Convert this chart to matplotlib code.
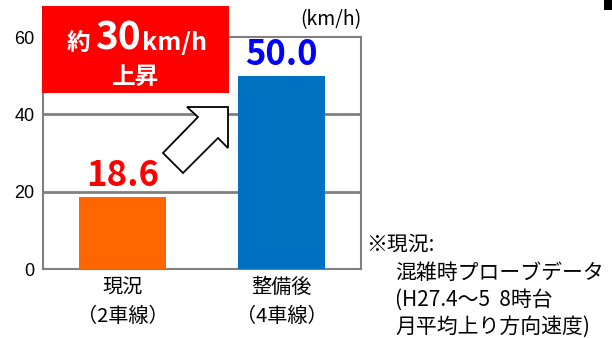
import matplotlib
matplotlib.use("Agg")
import matplotlib.pyplot as plt
from matplotlib.patches import Rectangle, Polygon

plt.rcParams['font.family'] = ['Noto Sans CJK JP', 'DejaVu Sans']

# Data
categories = ["現況\n（2車線）", "整備後\n（4車線）"]
speeds = [18.6, 50.0]
bar_colors = ["#FF6600", "#0070C0"]
label_colors = ["#FF0000", "#0000FF"]
yticks = [0, 20, 40, 60]

W, H = 612, 338
fig = plt.figure(figsize=(W / 100, H / 100), dpi=100)


def fp(x, y):
    """pixel position (from top-left) -> figure fraction"""
    return x / W, 1 - y / H


ax = fig.add_axes([43 / W, (H - 269) / H, (361 - 43) / W, (269 - 37) / H])
xs = list(range(len(categories)))
ax.bar(xs, speeds, width=0.55, color=bar_colors, zorder=3)
ax.set_xlim(-0.5, 1.5)
ax.set_ylim(0, 60)
ax.set_yticks(yticks)
ax.set_yticklabels([str(t) for t in yticks], fontsize=13, family=['Liberation Sans'])
ax.set_xticks(xs)
ax.set_xticklabels(categories, fontsize=14.5, linespacing=1.5)
ax.tick_params(length=0, pad=6)
ax.tick_params(axis='x', pad=6)
for t in yticks[1:-1]:
    ax.axhline(t, color="#808080", lw=2, zorder=1)
for s in ax.spines.values():
    s.set_color("#808080")
    s.set_linewidth(1.5)

for x, v, c in zip(xs, speeds, label_colors):
    ax.text(x, v + 1.0, f"{v:.1f}", ha='center', va='bottom', color=c,
            fontsize=25, fontweight='bold')

# unit label
fig.text(*fp(331, 20), "(km/h)", ha='center', va='center', fontsize=14)

# highlight box
x0, y0 = fp(42, 93)
x1, y1 = fp(229, 6)
fig.patches.append(Rectangle((x0, y0), x1 - x0, y1 - y0, transform=fig.transFigure,
                             facecolor="#FF0000", edgecolor='none', zorder=5))
fig.text(*fp(78, 50), "約", color='white', fontsize=17, fontweight='bold',
         ha='center', va='baseline', zorder=6)
fig.text(*fp(118, 50), "30", color='white', fontsize=28, fontweight='bold',
         ha='center', va='baseline', zorder=6)
fig.text(*fp(175, 50), "km/h", color='white', fontsize=18, fontweight='bold',
         ha='center', va='baseline', zorder=6)
fig.text(*fp(136, 77), "上昇", color='white', fontsize=17, fontweight='bold',
         ha='center', va='center', zorder=6)

# block arrow between bars
arrow_px = [(187, 107), (198, 117), (163, 153), (183, 173),
            (218, 138), (228, 148), (228, 107)]
fig.patches.append(Polygon([fp(x, y) for x, y in arrow_px], closed=True,
                           transform=fig.transFigure, facecolor='white',
                           edgecolor='black', lw=1.3, zorder=6))

# note
fig.text(*fp(366, 245), "※現況:", fontsize=15, ha='left', va='center')
note_lines = ["混雑時プローブデータ", "(H27.4～5  8時台", "月平均上り方向速度)"]
for i, line in enumerate(note_lines):
    fig.text(*fp(395, 273 + 27 * i), line, fontsize=15, ha='left', va='center')

# corner mark
cx0, cy0 = fp(604, 10)
cx1, cy1 = fp(612, 0)
fig.patches.append(Rectangle((cx0, cy0), cx1 - cx0, cy1 - cy0, transform=fig.transFigure,
                             facecolor='black', edgecolor='none'))

fig.savefig("out.png", dpi=100)
